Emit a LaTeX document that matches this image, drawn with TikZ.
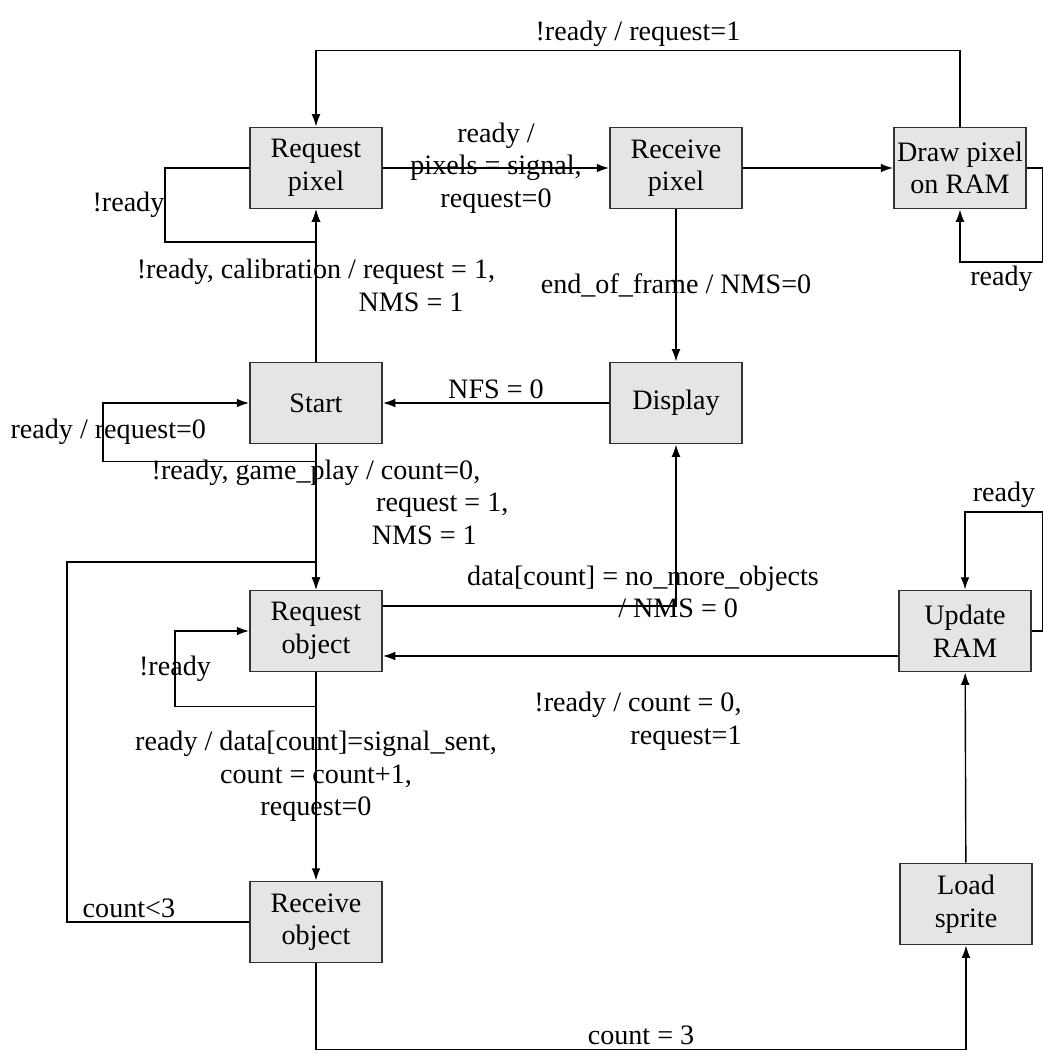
\documentclass[tikz,border=0pt]{standalone}
\usepackage{fontspec}
\setmainfont{Liberation Serif}
\usetikzlibrary{arrows.meta}
\tikzset{
    state/.style={draw=black!80, fill=gray!20, line width=1.1pt, minimum width=2.64cm, minimum height=1.62cm, align=center, inner sep=1pt},
    lbl/.style={inner sep=2pt, align=center},
    >={Latex[length=7pt,width=5pt]}
}

\begin{document}
\begin{tikzpicture}[x=0.02cm, y=-0.02cm, line width=0.8pt, font=\fontsize{16}{18.5}\selectfont]
    \useasboundingbox (0,0) rectangle (1043,1055);

    \node[state] (rp) at (316,168) {Request\\pixel};
    \node[state] (rx) at (676,168) {Receive\\pixel};
    \node[state] (dp) at (960,168) {Draw pixel\\on RAM};
    \node[state] (st) at (316,403) {Start};
    \node[state] (dy) at (676,403) {Display};
    \node[state] (ro) at (316,631) {Request\\object};
    \node[state] (ur) at (965,631) {Update\\RAM};
    \node[state] (rv) at (316,922) {Receive\\object};
    \node[state] (ls) at (966,904) {Load\\sprite};

    % pixel part
    \draw[->] (dp.north) -- ++(0,-76) -| node[lbl, above, pos=0.25] {!ready / request=1} (rp.north);
    \draw[->] (rp) -- node[lbl] {ready /\\pixels = signal,\\request=0} (rx);
    \draw[->] (rx) -- (dp);
    \draw[->] (dp.east) -- ++(16,0) -- ++(0,94) -| node[lbl, below, pos=0.25] {ready} (dp.south);
    \draw[->] (rp.west) -- ++(-84,0) -- node[lbl, left, xshift=2pt] {!ready} ++(0,74) -| (rp.south);

    % start
    \draw[->] (st) -- node[lbl, align=right] {!ready, calibration / request = 1,\\NMS = 1\hspace*{18pt}} (rp);
    \draw[->] (st.south) -- ++(0,17) -- ++(-213,0) |- node[lbl, pos=0.25, xshift=3pt] {ready / request=0} (st.west);
    \draw[->] (dy) -- node[lbl, above] {NFS = 0} (st);
    \draw[->] (rx) -- node[lbl] {end\_of\_frame / NMS=0} (dy);
    \draw[->] (st) -- (ro)
        node[lbl, align=right] at (330,502) {!ready, game\_play / count=0,\hspace*{16pt}\\request = 1,\\NMS = 1\hspace*{18pt}};

    % object part
    \draw[->] ([yshift=0.5cm]ro.east) -| (dy.south)
        node[lbl, align=left] at (643,592) {data[count] = no\_more\_objects\\\hspace*{86pt}/ NMS = 0};
    \draw[->] ([yshift=-0.5cm]ur.west) -- ([yshift=-0.5cm]ro.east)
        node[lbl, align=right] at (638,721) {!ready / count = 0,\\request=1};
    \draw[->] (ro.south) -- ++(0,34) -- ++(-141,0) |- node[lbl, pos=0.25] {!ready} (ro.west);
    \draw[->] (ro) -- node[lbl] {ready / data[count]=signal\_sent,\\count = count+1,\\request=0} (rv);
    \draw[->] (rv.west) -- node[lbl, above, pos=0.66] {count<3} ++(-182,0) -- ++(0,-360) -| (ro.north);
    \draw[->] (rv.south) -- ++(0,86) -| node[lbl, above, pos=0.25] {count = 3} (ls.south);
    \draw[->] (ls) -- (ur);
    \draw[->] (ur.east) -- ++(11,0) -- ++(0,-119) -| node[lbl, above, pos=0.25] {ready} (ur.north);
\end{tikzpicture}
\end{document}
